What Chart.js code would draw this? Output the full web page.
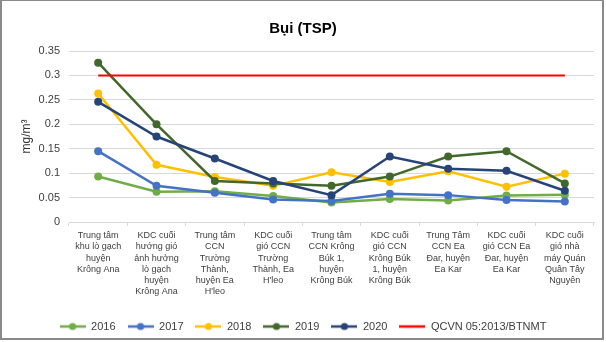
<!DOCTYPE html>
<html><head><meta charset="utf-8">
<script src="https://cdn.jsdelivr.net/npm/chart.js@4/dist/chart.umd.min.js"></script>
<style>
html,body{margin:0;padding:0;background:#fff;}
#wrap{position:relative;width:606px;height:342px;}
#c{position:absolute;left:0;top:0;}
#frame{position:absolute;left:0;top:0;width:604px;height:340px;border:2px solid #8a8a8a;border-top-width:1px;box-sizing:border-box;pointer-events:none;}
</style></head>
<body>
<div id="wrap"><canvas id="c" width="606" height="342"></canvas><div id="frame"></div></div>
<script>
const categories = [
  ["Trung tâm","khu lò gạch","huyện","Krông Ana"],
  ["KDC cuối","hướng gió","ảnh hưởng","lò gạch","huyện","Krông Ana"],
  ["Trung tâm","CCN","Trường","Thành,","huyện Ea","H'leo"],
  ["KDC cuối","gió CCN","Trường","Thành, Ea","H'leo"],
  ["Trung tâm","CCN Krông","Búk 1,","huyện","Krông Búk"],
  ["KDC cuối","gió CCN","Krông Búk","1, huyện","Krông Búk"],
  ["Trung Tâm","CCN Ea","Đar, huyện","Ea Kar"],
  ["KDC cuối","gió CCN Ea","Đar, huyện","Ea Kar"],
  ["KDC cuối","gió nhà","máy Quán","Quân Tây","Nguyên"]
];
const s2016 = [0.093, 0.062, 0.063, 0.053, 0.040, 0.047, 0.044, 0.054, 0.056];
const s2017 = [0.145, 0.074, 0.060, 0.046, 0.043, 0.058, 0.055, 0.045, 0.042];
const s2018 = [0.263, 0.117, 0.092, 0.074, 0.102, 0.082, 0.104, 0.072, 0.099];
const s2019 = [0.326, 0.200, 0.084, 0.079, 0.074, 0.093, 0.134, 0.145, 0.079];
const s2020 = [0.246, 0.175, 0.130, 0.084, 0.055, 0.134, 0.109, 0.105, 0.064];
const qcvn  = [0.3, 0.3, 0.3, 0.3, 0.3, 0.3, 0.3, 0.3, 0.3];
const yTicks = {min: 0, max: 0.35, step: 0.05};
const seriesNames = ["2016","2017","2018","2019","2020","QCVN 05:2013/BTNMT"];
const colors = ["#70AD47","#4472C4","#FFC000","#43682B","#264478","#FF0000"];

const FONT = "'Liberation Sans', Arial, sans-serif";

function legendImg(color, withPoint){
  const cv = document.createElement('canvas');
  cv.width = 26; cv.height = 10;
  const x = cv.getContext('2d');
  x.strokeStyle = color; x.lineWidth = 2.5;
  x.beginPath(); x.moveTo(0,5); x.lineTo(26,5); x.stroke();
  if (withPoint){ x.fillStyle = color; x.beginPath(); x.arc(13,5,3.6,0,Math.PI*2); x.fill(); }
  return cv;
}

const allSeries = [s2016, s2017, s2018, s2019, s2020, qcvn];
const datasets = allSeries.map((d,i)=>{
  const isLimit = i === 5;
  return {
    label: seriesNames[i],
    data: d,
    borderColor: colors[i],
    backgroundColor: colors[i],
    borderWidth: isLimit ? 2 : 2.5,
    pointRadius: isLimit ? 0 : 4,
    pointHoverRadius: isLimit ? 0 : 4,
    pointBorderWidth: 0,
    tension: 0,
    order: 6 - i
  };
});

new Chart(document.getElementById('c'), {
  type: 'line',
  data: {labels: categories, datasets},
  options: {
    responsive: false,
    animation: false,
    events: [],
    layout: {padding: {left: 12, right: 12, top: 0, bottom: 0}},
    plugins: {
      title: {display: true, text: 'Bụi (TSP)', color: '#000',
        font: {family: FONT, size: 15, weight: 'bold'}, padding: {top: 20, bottom: 13}},
      tooltip: {enabled: false},
      legend: {
        position: 'bottom',
        labels: {
          usePointStyle: true,
          pointStyleWidth: 26,
          padding: 12,
          color: '#404040',
          font: {family: FONT, size: 11},
          generateLabels: (chart)=> chart.data.datasets.map((ds,i)=>({
            text: ds.label,
            pointStyle: legendImg(ds.borderColor, i < 5),
            fillStyle: ds.borderColor,
            strokeStyle: ds.borderColor,
            lineWidth: 0,
            hidden: false,
            datasetIndex: i,
            fontColor: '#404040'
          }))
        }
      }
    },
    scales: {
      x: {
        offset: true,
        grid: {display: true, drawOnChartArea: false, offset: true, drawTicks: true, tickLength: 4, color: '#d9d9d9'},
        border: {color: '#d9d9d9'},
        ticks: {autoSkip: false, maxRotation: 0, minRotation: 0, padding: 4, color: '#404040',
          font: {family: FONT, size: 9, lineHeight: 1.25}},
        afterFit: (s)=>{ s.height = 87; }
      },
      y: {
        min: yTicks.min, max: yTicks.max,
        ticks: {stepSize: yTicks.step, padding: 9, color: '#404040', font: {family: FONT, size: 11},
          callback: (v)=> String(Math.round(v*100)/100)},
        grid: {color: '#d9d9d9', drawTicks: false},
        border: {display: false},
        title: {display: true, text: 'mg/m³', color: '#333', font: {family: FONT, size: 12}, padding: {top: 7, bottom: 0}},
        afterFit: (s)=>{ s.width = 57; }
      }
    }
  }
});
</script>
</body></html>
